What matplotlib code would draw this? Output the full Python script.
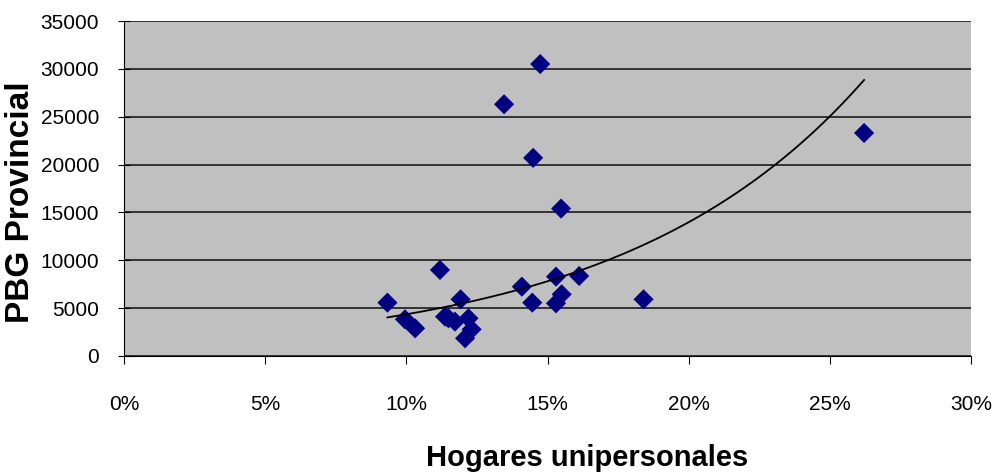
import numpy as np
import matplotlib.pyplot as plt
from matplotlib import ticker

plt.rcParams['font.family'] = ['Liberation Sans', 'DejaVu Sans']

# share of one-person households (%) and provincial gross product per province
hogares = [14.74, 13.46, 14.49, 15.48, 26.21, 9.33, 9.95, 10.31, 11.19, 11.37,
           11.49, 11.72, 11.92, 12.20, 12.31, 12.08, 14.09, 14.46, 15.30, 15.30,
           15.50, 16.12, 18.40]
pbg = [30500, 26300, 20700, 15400, 23300, 5570, 3830, 2890, 8990, 4110,
       3940, 3590, 5920, 3940, 2780, 1850, 7240, 5570, 8290, 5500,
       6440, 8360, 5920]

x_ticks = [0, 5, 10, 15, 20, 25, 30]
y_ticks = [0, 5000, 10000, 15000, 20000, 25000, 30000, 35000]

x = np.array(hogares)
y = np.array(pbg)

# exponential trend: ln(y) fitted linearly on x
b, ln_a = np.polyfit(x, np.log(y), 1)
xs = np.linspace(x.min(), x.max(), 200)
ys = np.exp(ln_a) * np.exp(b * xs)

fig = plt.figure(figsize=(9.96, 4.73), dpi=100)
ax = fig.add_axes([0.1245, 0.2474, 0.8505, 0.7082])
ax.set_facecolor('#c0c0c0')

ax.set_axisbelow(True)
ax.grid(axis='y', color='#333333', linewidth=1.4)
ax.scatter(x, y, marker='D', s=105, color='#000080', edgecolors='none', zorder=3)
ax.plot(xs, ys, color='black', linewidth=1.3, zorder=4)

ax.set_xlim(0, 30)
ax.set_ylim(0, 35000)
ax.set_xticks(x_ticks)
ax.set_yticks(y_ticks)
ax.xaxis.set_major_formatter(ticker.FuncFormatter(lambda v, p: f'{v:.0f}%'))

for s in ['top', 'right']:
    ax.spines[s].set_visible(False)
ax.spines['left'].set_color('black')
ax.spines['bottom'].set_color('black')

ax.tick_params(axis='x', direction='out', length=6, pad=22, labelsize=15)
ax.tick_params(axis='y', direction='inout', length=8, pad=14, labelsize=15)

ax.set_xlabel('Hogares unipersonales', fontsize=21, fontweight='bold', labelpad=22)
ax.xaxis.label.set_x(0.547)
ax.set_ylabel('PBG Provincial', fontsize=24, fontweight='bold', labelpad=3)
ax.yaxis.label.set_y(0.46)

fig.savefig('out.png', dpi=100)
